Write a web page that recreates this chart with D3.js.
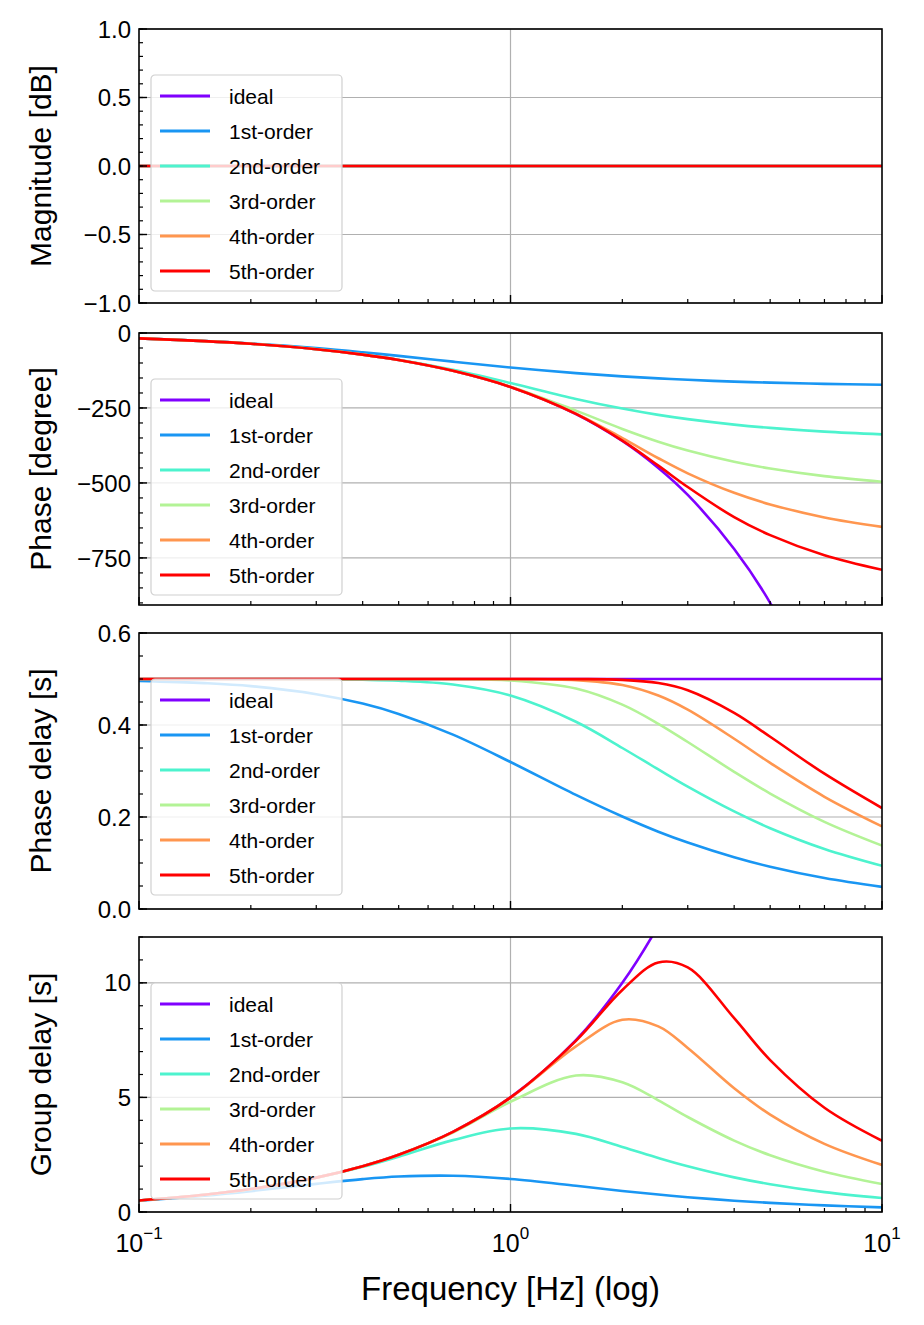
<!DOCTYPE html>
<meta charset="utf-8">
<style>
body{margin:0;background:#fff;}
text{font-family:"Liberation Sans",Arial,sans-serif;}
.grid line{stroke:#b0b0b0;stroke-width:1.2;}
</style>
<body>
<script src="https://d3js.org/d3.v7.min.js"></script>
<script>
var freq=[0.1,0.15,0.2,0.3,0.4,0.5,0.7,1,1.5,2,2.5,3,4,5,7,10];
var names=["ideal","1st-order","2nd-order","3rd-order","4th-order","5th-order"];
var colors=["#8000ff","#1996f3","#4df3ce","#b3f396","#ff964f","#ff0000"];

var magnitude=[
 [0,0,0,0,0,0,0,0,0,0,0,0,0,0,0,0],
 [0,0,0,0,0,0,0,0,0,0,0,0,0,0,0,0],
 [0,0,0,0,0,0,0,0,0,0,0,0,0,0,0,0],
 [0,0,0,0,0,0,0,0,0,0,0,0,0,0,0,0],
 [0,0,0,0,0,0,0,0,0,0,0,0,0,0,0,0],
 [0,0,0,0,0,0,0,0,0,0,0,0,0,0,0,0]];
var phase=[
 [-18,-27,-36,-54,-72,-90,-126,-180,-270,-360,-450,-540,-720,-900,-1260,-1800],
 [-17.9,-26.5,-34.9,-50.4,-64.3,-76.3,-95.5,-115.1,-133.9,-144.7,-151.2,-156.1,-162.0,-165.4,-169.6,-172.8],
 [-18,-27,-36,-53.9,-71.8,-89.4,-123.0,-167.0,-219.8,-252.0,-273.1,-287.3,-305.4,-316.3,-328.9,-338.0],
 [-18,-27,-36,-54,-72,-90,-126,-178.9,-258.9,-319.9,-362.4,-392.0,-429.4,-451.8,-477.3,-496.1],
 [-18,-27,-36,-54,-72,-90,-126,-180,-268.7,-350.6,-417.6,-468.0,-533.0,-571.5,-614.9,-646.6],
 [-18,-27,-36,-54,-72,-90,-126,-180,-269.9,-358.7,-442.2,-513.6,-614.0,-674.1,-741.1,-789.8]];
var phaseDelay=[
 [.5,.5,.5,.5,.5,.5,.5,.5,.5,.5,.5,.5,.5,.5,.5,.5],
 [.496,.491,.4845,.467,.4465,.424,.379,.3196,.248,.201,.168,.1445,.1125,.0919,.0673,.048],
 [.5,.5,.4999,.4993,.4984,.4964,.488,.464,.407,.350,.3034,.266,.2121,.1757,.1305,.0939],
 [.5,.5,.5,.5,.5,.4999,.4998,.4969,.4794,.4443,.4027,.3630,.2982,.2510,.1894,.1378],
 [.5,.5,.5,.5,.5,.5,.5,.4999,.4976,.4869,.4640,.4333,.3701,.3175,.2440,.1796],
 [.5,.5,.5,.5,.5,.5,.5,.5,.4998,.4982,.4913,.4756,.4264,.3745,.2941,.2194]];
var groupDelay=[
 [.5,.75,1,1.5,2,2.5,3.5,5,7.5,10,12.5,15,20,25,35,50],
 [.488,.711,.910,1.228,1.434,1.546,1.584,1.442,1.145,.920,.761,.647,.494,.399,.287,.202],
 [.5,.75,.999,1.492,1.970,2.415,3.136,3.647,3.41,2.839,2.357,1.995,1.511,1.213,.868,.608],
 [.5,.75,1,1.5,2,2.5,3.47,4.81,5.955,5.66,4.875,4.146,3.116,2.476,1.757,1.223],
 [.5,.75,1,1.5,2,2.5,3.5,4.989,7.23,8.39,8.10,7.16,5.40,4.25,2.975,2.053],
 [.5,.75,1,1.5,2,2.5,3.5,5,7.47,9.69,10.89,10.67,8.46,6.63,4.55,3.11]];

var panels=[
 {data:magnitude,label:"Magnitude [dB]",dom:[-1,1],major:[-1,-0.5,0,0.5,1],minorStep:0.1,fmt:d3.format(".1f"),top:29,bottom:303},
 {data:phase,label:"Phase [degree]",dom:[-907,0],major:[-750,-500,-250,0],minorStep:50,fmt:d3.format("d"),top:333,bottom:605},
 {data:phaseDelay,label:"Phase delay [s]",dom:[0,0.6],major:[0,0.2,0.4,0.6],minorStep:0.05,fmt:d3.format(".1f"),top:633,bottom:909},
 {data:groupDelay,label:"Group delay [s]",dom:[0,12],major:[0,5,10],minorStep:1,fmt:d3.format("d"),top:937,bottom:1212}];

var W=924,H=1325,left=139,right=882;
var svg=d3.select("body").append("svg").attr("width",W).attr("height",H);
var x=d3.scaleLog().domain([0.1,10]).range([left,right]);
var minorX=[];
[0.1,1].forEach(function(b){for(var k=2;k<10;k++)minorX.push(b*k);});
var minus=function(s){return s.replace("-","\u2212");};

panels.forEach(function(p,pi){
	var y=d3.scaleLinear().domain(p.dom).range([p.bottom,p.top]);
	var g=svg.append("g");
	var cid="clip"+pi;
	svg.append("clipPath").attr("id",cid).append("rect")
		.attr("x",left).attr("y",p.top).attr("width",right-left).attr("height",p.bottom-p.top);

	var grid=g.append("g").attr("class","grid");
	grid.selectAll(".gx").data([1]).enter().append("line")
		.attr("x1",d=>x(d)).attr("x2",d=>x(d)).attr("y1",p.top).attr("y2",p.bottom);
	grid.selectAll(".gy").data(p.major).enter().append("line")
		.attr("x1",left).attr("x2",right).attr("y1",d=>y(d)).attr("y2",d=>y(d));

	var line=d3.line().x((d,i)=>x(freq[i])).y(d=>y(d)).curve(d3.curveCatmullRom.alpha(0.5));
	g.append("g").attr("clip-path","url(#"+cid+")").selectAll("path").data(p.data).enter().append("path")
		.attr("d",line).attr("fill","none").attr("stroke",(d,i)=>colors[i]).attr("stroke-width",2.6);

	// axes with inward ticks
	var minorY=d3.range(p.dom[0],p.dom[1]+1e-9,p.minorStep);
	if(pi==1)minorY=d3.range(0,-907,-50);
	var ax=g.append("g");
	ax.selectAll(".my").data(minorY).enter().append("line")
		.attr("x1",left).attr("x2",left+4).attr("y1",d=>y(d)).attr("y2",d=>y(d)).attr("stroke","#000").attr("stroke-width",1.2);
	ax.selectAll(".My").data(p.major).enter().append("line")
		.attr("x1",left).attr("x2",left+8).attr("y1",d=>y(d)).attr("y2",d=>y(d)).attr("stroke","#000").attr("stroke-width",1.4);
	ax.selectAll(".mx").data(minorX).enter().append("line")
		.attr("x1",d=>x(d)).attr("x2",d=>x(d)).attr("y1",p.bottom).attr("y2",p.bottom-4).attr("stroke","#000").attr("stroke-width",1.2);
	ax.selectAll(".Mx").data([0.1,1,10]).enter().append("line")
		.attr("x1",d=>x(d)).attr("x2",d=>x(d)).attr("y1",p.bottom).attr("y2",p.bottom-8).attr("stroke","#000").attr("stroke-width",1.4);
	ax.selectAll(".ty").data(p.major).enter().append("text")
		.attr("x",left-8).attr("y",d=>y(d)).attr("dy","0.36em").attr("text-anchor","end")
		.attr("font-size",24).text(d=>minus(p.fmt(d)));
	g.append("rect").attr("x",left).attr("y",p.top).attr("width",right-left).attr("height",p.bottom-p.top)
		.attr("fill","none").attr("stroke","#000").attr("stroke-width",1.6);
	g.append("text").attr("transform","translate(51,"+((p.top+p.bottom)/2)+") rotate(-90)")
		.attr("text-anchor","middle").attr("font-size",30).text(p.label);

	// legend
	var lg=g.append("g").attr("transform","translate(151,"+(p.top+46)+")");
	lg.append("rect").attr("width",191).attr("height",216).attr("rx",4)
		.attr("fill","#fff").attr("fill-opacity",0.8).attr("stroke","#d0d0d0").attr("stroke-width",1.2);
	var it=lg.selectAll(".it").data(names).enter().append("g")
		.attr("transform",(d,i)=>"translate(0,"+(21+i*35)+")");
	it.append("line").attr("x1",9).attr("x2",59).attr("stroke",(d,i)=>colors[i]).attr("stroke-width",2.8);
	it.append("text").attr("x",78).attr("dy","0.36em").attr("font-size",21).text(d=>d);
});

var xl=svg.append("g");
xl.selectAll("text").data([-1,0,1]).enter().append("text")
	.attr("x",d=>x(Math.pow(10,d))).attr("y",1252).attr("text-anchor","middle").attr("font-size",25)
	.each(function(d){
		var t=d3.select(this);
		t.append("tspan").text("10");
		t.append("tspan").attr("dy",-13).attr("font-size",17).text(minus(String(d)));
	});
svg.append("text").attr("x",(left+right)/2).attr("y",1300).attr("text-anchor","middle")
	.attr("font-size",33).text("Frequency [Hz] (log)");
</script>
</body>
